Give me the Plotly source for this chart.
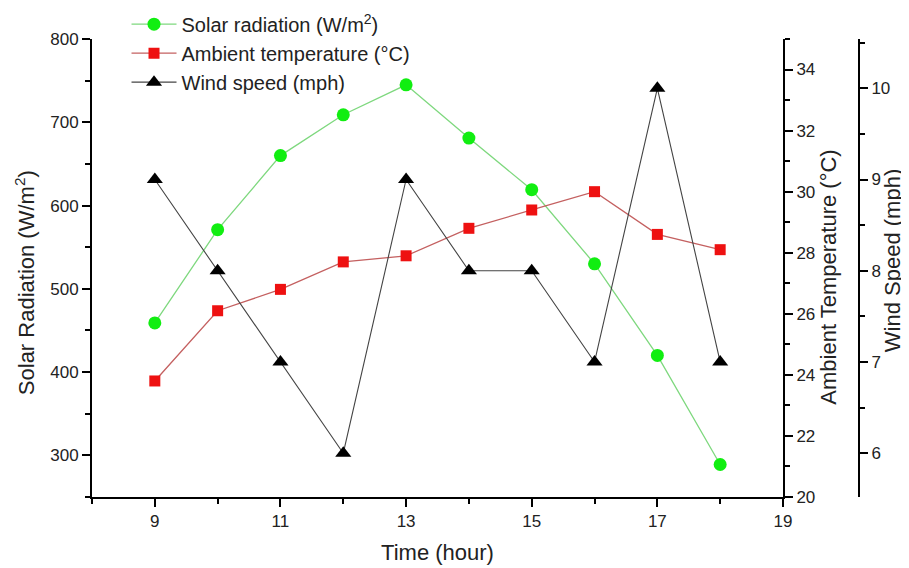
import plotly.graph_objects as go

hours = [9, 10, 11, 12, 13, 14, 15, 16, 17, 18]
solar = [459, 571, 660, 709, 745, 681, 619, 530, 420, 289]
temperature = [23.8, 26.1, 26.8, 27.7, 27.9, 28.8, 29.4, 30.0, 28.6, 28.1]
wind = [9, 8, 7, 6, 9, 8, 8, 7, 10, 7]

FONT = "Liberation Sans, Arial, sans-serif"

fig = go.Figure()
fig.add_trace(go.Scatter(
    x=hours, y=solar, name="Solar radiation (W/m<sup>2</sup>)", mode="lines+markers",
    line=dict(color="#7ed87e", width=1.3),
    marker=dict(symbol="circle", size=13, color="#11ee11"),
    yaxis="y"))
fig.add_trace(go.Scatter(
    x=hours, y=temperature, name="Ambient temperature (°C)", mode="lines+markers",
    line=dict(color="#c46060", width=1.3),
    marker=dict(symbol="square", size=11, color="#ee1111"),
    yaxis="y2"))
fig.add_trace(go.Scatter(
    x=hours, y=wind, name="Wind speed (mph)", mode="lines+markers",
    line=dict(color="#444444", width=1.1),
    marker=dict(symbol="triangle-up", size=14, color="#000000"),
    yaxis="y3"))

axis_common = dict(showline=True, linecolor="black", linewidth=2, ticks="outside",
                   ticklen=8, tickwidth=2, tickcolor="black", showgrid=False,
                   zeroline=False, tickfont=dict(size=17, color="#222"))


def minor(t0, dt):
    return dict(ticks="outside", ticklen=5, tickwidth=2, tickcolor="black",
                tick0=t0, dtick=dt, showgrid=False)


def ytitle(text, x, y):
    return dict(text=text, xref="paper", yref="paper", x=x, y=y, textangle=-90,
                showarrow=False, xanchor="center", yanchor="middle",
                font=dict(size=22, color="#222"))


fig.update_layout(
    width=901, height=560,
    margin=dict(l=84, r=50, t=31, b=71, autoexpand=False),
    paper_bgcolor="white", plot_bgcolor="white",
    font=dict(family=FONT, color="#222"),
    showlegend=True,
    legend=dict(x=0.045, y=1.075, xanchor="left", yanchor="top",
                font=dict(size=20, color="#222"), bgcolor="rgba(0,0,0,0)",
                tracegroupgap=0, itemwidth=45),
    xaxis=dict(domain=[0, 0.9009], range=[8, 19], tickmode="linear", tick0=9, dtick=2,
               title=dict(text="Time (hour)", font=dict(size=22), standoff=14),
               minor=minor(8, 1), **axis_common),
    yaxis=dict(range=[250, 800], tickmode="linear", tick0=300, dtick=100,
               minor=minor(250, 50), **axis_common),
    yaxis2=dict(range=[20, 35], overlaying="y", side="right", anchor="x",
                tickmode="linear", tick0=20, dtick=2,
                minor=minor(21, 1), **axis_common),
    yaxis3=dict(range=[5.52, 10.54], overlaying="y", side="right", anchor="free", position=1.0,
                tickmode="linear", tick0=6, dtick=1,
                minor=minor(5.5, 0.5), **axis_common),
    annotations=[
        ytitle("Solar Radiation (W/m<sup>2</sup>)", -0.0874, 0.469),
        ytitle("Ambient Temperature (°C)", 0.961, 0.479),
        ytitle("Wind Speed (mph)", 1.043, 0.517),
    ],
)

fig.write_html("out.html")
